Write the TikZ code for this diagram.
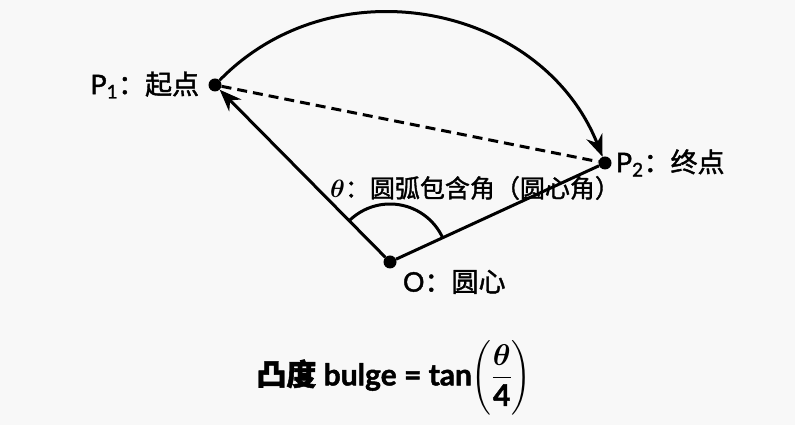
\RequirePackage{fix-cm}
\documentclass[tikz,border=0pt]{standalone}
\usepackage{amsmath}
\usepackage{fontspec}
\setmainfont{Lato}[FakeBold=1.5]
\newfontfamily\cjk{Noto Sans CJK SC}[FakeBold=1.5]
\usetikzlibrary{arrows.meta}
\usetikzlibrary{positioning}
\usetikzlibrary{angles}
\definecolor{paper}{RGB}{248,248,248}

\begin{document}
\begin{tikzpicture}[x=1pt, y=1pt,
    dot/.style={circle, fill=black, inner sep=0pt, minimum size=13pt},
    lbl/.style={font=\fontsize{27}{30}\selectfont, inner sep=0pt},
    edge/.style={line width=3pt},
    tip/.style={-{Stealth[length=22pt, width=17pt]}}]
    \useasboundingbox[fill=paper] (0,0) rectangle (795,425);

    % points of the arc
    \draw (215,340) node[dot] (p1) {};
    \draw (605,262) node[dot] (p2) {};
    \draw (390,163) node[dot] (o) {};

    \node[lbl, left=9pt of p1] (p1lbl) {P\textsubscript{1}\cjk：起点};
    \node[lbl, right=4pt of p2] (p2lbl) {P\textsubscript{2}\cjk：终点};
    \node[lbl, below right=3pt and 8pt of o] (olbl) {O\cjk：圆心};
    \node[lbl, font=\fontsize{25}{28}\selectfont] (thlbl) at (475,237) {{\boldmath$\theta$}\cjk：圆弧包含角（圆心角）};

    \draw[edge, tip] (o) -- (p1);
    \draw[edge] (o) -- (p2);
    \draw[edge, dash pattern=on 10pt off 6pt] (p1) -- (p2);
    \draw[edge, tip] (p1) to[bend left=57, looseness=1.08] (p2);
    \pic[draw, edge, angle radius=58pt] {angle=p2--o--p1};

    \node[font=\fontsize{30}{34}\selectfont\bfseries] (bulge) at (394,47)
        {{\cjk 凸度} bulge = tan$\left(\rule[-30pt]{0pt}{70pt}\dfrac{\boldsymbol{\theta}}{\mathbf{4}}\right)$};
\end{tikzpicture}
\end{document}
